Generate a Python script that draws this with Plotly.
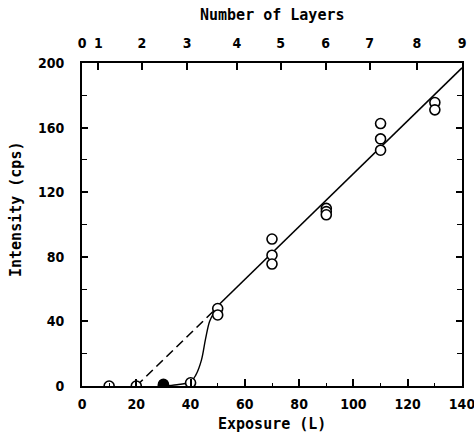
import plotly.graph_objects as go

# Measured data (exposure in L, intensity in cps)
open_x = [10, 20, 40, 50, 50, 70, 70, 70, 90, 90, 90, 110, 110, 110, 130, 130]
open_y = [0, 0, 2, 48, 44, 91, 81, 75.5, 110, 108, 106, 162.5, 153, 146, 175.5, 171]
filled_x = [30, 30]
filled_y = [0, 1]

# Drawn lines
solid_x = [49, 140]
solid_y = [48, 197]
dashed_x = [20, 48.5]
dashed_y = [0, 46.5]
curve_x = [30, 35, 40, 42, 44, 45.5, 47, 48.5]
curve_y = [0, 0.8, 2.5, 7, 16, 29, 40, 45]

# Top axis: number of layers at exposure positions
layer_pos = [0, 6, 22.1, 38.7, 57.1, 73.2, 89.8, 106, 123.4, 140]
layer_lbl = ["0", "1", "2", "3", "4", "5", "6", "7", "8", "9"]

tick_font = dict(family="DejaVu Sans Condensed, sans-serif",
                 size=14, color="black", weight="bold")
title_font = dict(family="DejaVu Sans Mono, monospace", size=15, color="black", weight="bold")

fig = go.Figure()
fig.add_trace(go.Scatter(x=dashed_x, y=dashed_y, mode="lines",
                         line=dict(color="black", width=1.6, dash="9px,5px"), showlegend=False))
fig.add_trace(go.Scatter(x=solid_x, y=solid_y, mode="lines",
                         line=dict(color="black", width=1.6), showlegend=False))
fig.add_trace(go.Scatter(x=curve_x, y=curve_y, mode="lines",
                         line=dict(color="black", width=1.4, shape="spline"), showlegend=False))
fig.add_trace(go.Scatter(x=open_x, y=open_y, mode="markers",
                         marker=dict(symbol="circle", size=10, color="white",
                                     line=dict(color="black", width=1.6)), showlegend=False))
fig.add_trace(go.Scatter(x=filled_x, y=filled_y, mode="markers",
                         marker=dict(symbol="circle", size=10, color="black",
                                     line=dict(color="black", width=1.6)), showlegend=False))
# invisible trace to activate top axis
fig.add_trace(go.Scatter(x=[0, 140], y=[0, 0], xaxis="x2", mode="markers",
                         marker=dict(opacity=0), hoverinfo="skip", showlegend=False))

W, H = 474, 436
ML, MR, MT, MB = 82, 12, 63, 50
fig.update_layout(
    width=W, height=H,
    margin=dict(l=ML, r=MR, t=MT, b=MB),
    paper_bgcolor="white", plot_bgcolor="white",
    xaxis=dict(range=[0, 140], tickmode="linear", tick0=0, dtick=20,
               ticks="inside", ticklen=7, tickwidth=1.5, tickcolor="black",
               minor=dict(dtick=10, ticks="inside", ticklen=3, tickwidth=1.2, tickcolor="black"),
               showline=True, linecolor="black", linewidth=2, mirror=False,
               showgrid=False, zeroline=False, tickfont=tick_font, ticklabelstandoff=4,
               automargin=False, ticklabeloverflow="allow"),
    xaxis2=dict(range=[0, 140], overlaying="x", side="top", tickmode="array",
                tickvals=layer_pos, ticktext=layer_lbl,
                ticks="inside", ticklen=7, tickwidth=1.5, tickcolor="black",
                showline=True, linecolor="black", linewidth=2,
                showgrid=False, zeroline=False, tickfont=tick_font, ticklabelstandoff=7,
                automargin=False, ticklabeloverflow="allow"),
    yaxis=dict(range=[0, 200], tickmode="linear", tick0=0, dtick=40,
               ticks="inside", ticklen=6, tickwidth=1.5, tickcolor="black",
               minor=dict(dtick=20, ticks="inside", ticklen=5, tickwidth=1.2, tickcolor="black"),
               showline=True, linecolor="black", linewidth=2, mirror="ticks",
               showgrid=False, zeroline=False, tickfont=tick_font, ticklabelstandoff=13,
               automargin=False, ticklabeloverflow="allow"),
    annotations=[
        dict(text="Number of Layers", x=0.5, y=1, xref="paper", yref="paper",
             showarrow=False, font=title_font, yanchor="middle"),
        dict(text="Exposure (L)", x=0.5, y=0, xref="paper", yref="paper",
             showarrow=False, font=title_font, yanchor="middle"),
        dict(text="Intensity (cps)", x=0, y=0.5, xref="paper", yref="paper",
             showarrow=False, font=title_font, textangle=-90, xanchor="center"),
    ],
)

plot_h = H - MT - MB
plot_w = W - ML - MR
fig.layout.annotations[0].y = 1 + (63 - 15) / plot_h
fig.layout.annotations[1].y = -(424 - 386) / plot_h
fig.layout.annotations[2].x = -(82 - 16) / plot_w
fig.layout.annotations[2].y = 1 - (210 - 63) / plot_h

fig.write_html("out.html", config={"displayModeBar": False},
               post_script="document.body.style.margin='0';")
